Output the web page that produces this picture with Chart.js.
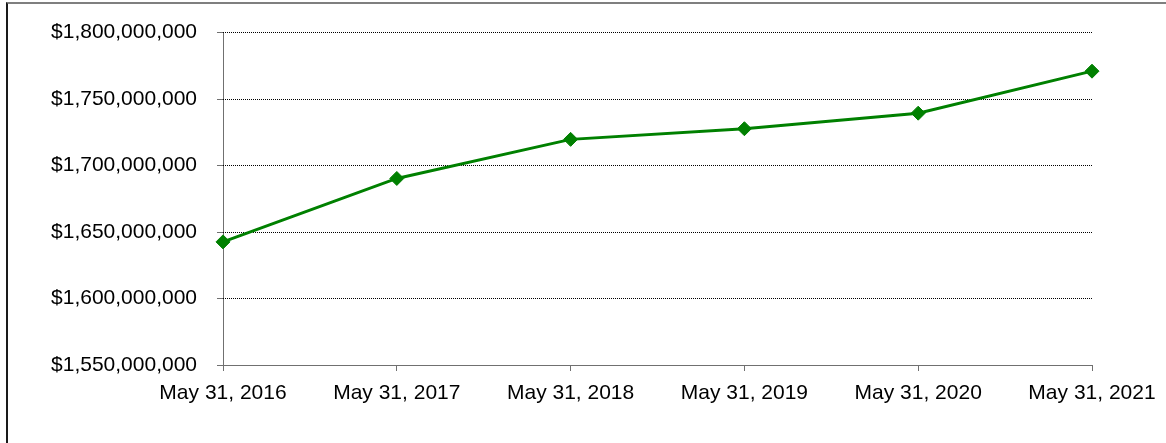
<!DOCTYPE html>
<html>
<head>
<meta charset="utf-8">
<script src="https://cdn.jsdelivr.net/npm/chart.js@4.4.1/dist/chart.umd.min.js"></script>
<style>
  html, body { margin: 0; padding: 0; background: #fff; }
  #wrap { position: relative; width: 1166px; height: 443px; overflow: hidden; }
  #frame {
    position: absolute; left: 6px; top: 2px; right: -10px; bottom: -10px;
    border-top: 2px solid #7f7f7f; border-left: 2px solid #1a1a1a;
    pointer-events: none;
  }
  canvas { position: absolute; left: 0; top: 0; }
</style>
</head>
<body>
<div id="wrap">
  <canvas id="assets" width="1166" height="443"></canvas>
  <div id="frame"></div>
</div>
<script>
'use strict';

const dates = ['May 31, 2016', 'May 31, 2017', 'May 31, 2018', 'May 31, 2019', 'May 31, 2020', 'May 31, 2021'];
const netAssets = [1642600000, 1690300000, 1719700000, 1727700000, 1739400000, 1771000000];
const yMin = 1550000000;
const yMax = 1800000000;
const yStep = 50000000;

const font = { family: '"Liberation Sans", Arial, sans-serif', size: 21 };
const axisGray = '#707070';

const ctx = document.getElementById('assets').getContext('2d');
new Chart(ctx, {
  type: 'line',
  data: {
    labels: dates,
    datasets: [{
      data: netAssets,
      borderColor: '#008000',
      backgroundColor: '#008000',
      borderWidth: 3,
      fill: false,
      tension: 0,
      pointStyle: 'rectRot',
      pointRadius: 7,
      pointBorderWidth: 1,
      pointBorderColor: '#008000',
      pointBackgroundColor: '#008000'
    }]
  },
  options: {
    animation: false,
    responsive: false,
    layout: { padding: { left: 0, top: 32, right: 74, bottom: 0 } },
    plugins: { legend: { display: false }, tooltip: { enabled: false } },
    scales: {
      x: {
        offset: false,
        afterFit: s => { s.height = 78; },
        ticks: { color: '#000', font: font, padding: 10, maxRotation: 0, autoSkip: false },
        grid: {
          // only the first category line is kept: it is the solid value axis
          color: c => c.index === 0 ? axisGray : 'rgba(0,0,0,0)',
          tickLength: 6,
          tickColor: axisGray,
          tickWidth: 1
        },
        border: { display: true, color: axisGray, width: 1 }
      },
      y: {
        min: yMin,
        max: yMax,
        afterFit: s => { s.width = 223; },
        ticks: {
          stepSize: yStep,
          color: '#000',
          font: font,
          padding: 20,
          callback: v => '$' + v.toLocaleString('en-US')
        },
        grid: {
          // dotted value lines; the bottom one is covered by the x axis
          color: c => (c.tick && c.tick.value === yMin) ? 'rgba(0,0,0,0)' : '#000',
          lineWidth: 1,
          tickLength: 6,
          tickColor: axisGray,
          tickBorderDash: []
        },
        border: { display: false, dash: [1, 1] }
      }
    }
  }
});
</script>
</body>
</html>
